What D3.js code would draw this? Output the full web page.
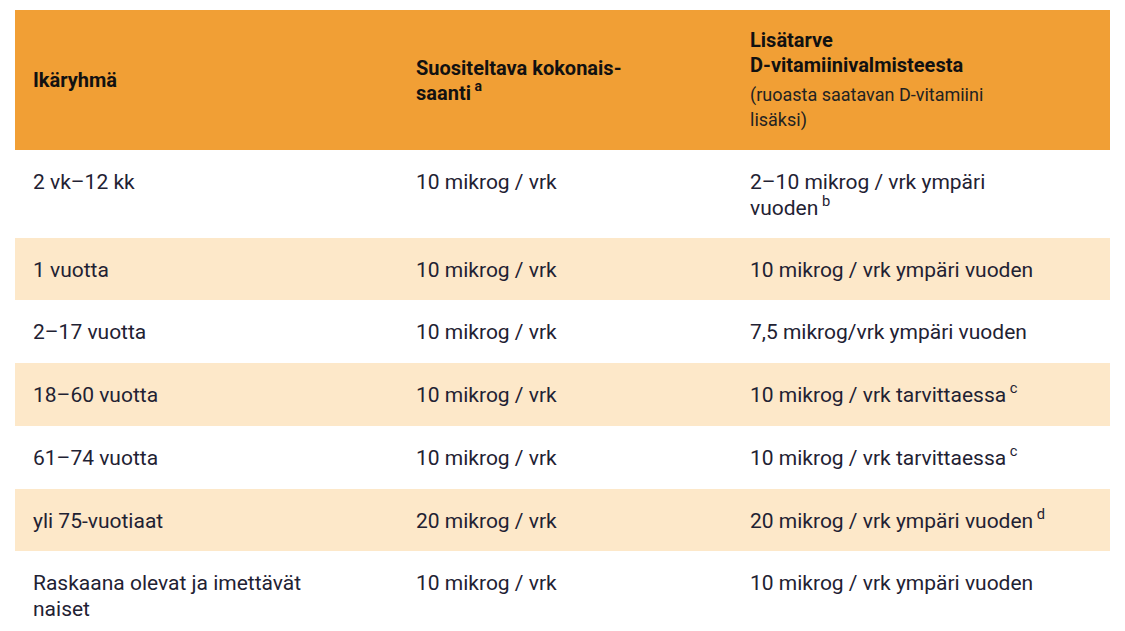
<!DOCTYPE html>
<html><head><meta charset="utf-8">
<script src="https://cdn.jsdelivr.net/npm/d3@7"></script>
<style>body{margin:0;background:#fff;font-family:Roboto,sans-serif}</style>
</head><body><svg id="c" width="1125" height="631"></svg>
<script>
const headers = [["Ikäryhmä"], ["Suositeltava kokonais-", "saanti"], ["Lisätarve", "D-vitamiinivalmisteesta"]];
const headerSup = [null, "a", null];
const headerSub = ["(ruoasta saatavan D-vitamiini", "lisäksi)"];
const ages = ["2 vk–12 kk", "1 vuotta", "2–17 vuotta", "18–60 vuotta", "61–74 vuotta", "yli 75-vuotiaat", "Raskaana olevat ja imettävät|naiset"];
const totals = ["10 mikrog / vrk","10 mikrog / vrk","10 mikrog / vrk","10 mikrog / vrk","10 mikrog / vrk","20 mikrog / vrk","10 mikrog / vrk"];
const extras = ["2–10 mikrog / vrk ympäri|vuoden", "10 mikrog / vrk ympäri vuoden", "7,5 mikrog/vrk ympäri vuoden", "10 mikrog / vrk tarvittaessa", "10 mikrog / vrk tarvittaessa", "20 mikrog / vrk ympäri vuoden", "10 mikrog / vrk ympäri vuoden"];
const extraSup = ["b", null, null, "c", "c", "d", null];

const svg = d3.select("#c");
const bounds = [150, 238, 300, 363, 426, 489, 551, 620];
const colX = [33, 416, 750];
svg.append("rect").attr("x",15).attr("y",10).attr("width",1095).attr("height",140).attr("fill","#F19F35");
ages.forEach((a,i)=>{
  svg.append("rect").attr("x",15).attr("y",bounds[i]).attr("width",1095).attr("height",bounds[i+1]-bounds[i])
    .attr("fill", i%2===1 ? "#FDE8C9" : "#fff");
});
// header
function lines(g, x, y, arr, opts){
  arr.forEach((s,k)=>{
    const t = g.append("text").attr("x",x).attr("y",y+k*(opts.lh)).attr("font-size",opts.fs)
      .attr("font-weight",opts.fw||400).attr("fill",opts.fill).text(s);
    if (opts.sup && k===arr.length-1){
      t.append("tspan").attr("font-size",opts.fs*0.7).attr("dy",-9).text(" "+opts.sup);
    }
  });
}
lines(svg, colX[0], 87, headers[0], {fs:20, fw:700, fill:"#111", lh:25});
lines(svg, colX[1], 75, headers[1], {fs:20, fw:700, fill:"#111", lh:25, sup:headerSup[1]});
lines(svg, colX[2], 47, headers[2], {fs:20, fw:700, fill:"#111", lh:25});
lines(svg, colX[2], 101, headerSub, {fs:18, fill:"#222", lh:25});
// body
const bodyFill = "#1f2233";
ages.forEach((a,i)=>{
  const y = bounds[i] + 39;
  lines(svg, colX[0], y, a.split("|"), {fs:21, fill:bodyFill, lh:26});
  lines(svg, colX[1], y, [totals[i]], {fs:21, fill:bodyFill, lh:26});
  lines(svg, colX[2], y, extras[i].split("|"), {fs:21, fill:bodyFill, lh:26, sup:extraSup[i]});
});
</script></body></html>
